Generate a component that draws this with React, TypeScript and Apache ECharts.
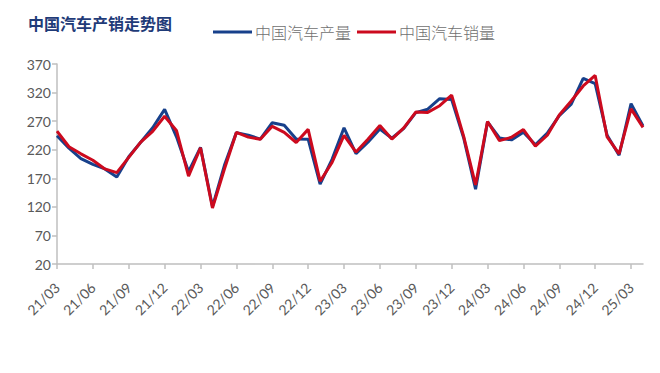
import React, { useEffect, useRef } from "react";
import * as echarts from "echarts";

const months: string[] = [
  "21/03","21/04","21/05","21/06","21/07","21/08","21/09","21/10","21/11","21/12",
  "22/01","22/02","22/03","22/04","22/05","22/06","22/07","22/08","22/09","22/10","22/11","22/12",
  "23/01","23/02","23/03","23/04","23/05","23/06","23/07","23/08","23/09","23/10","23/11","23/12",
  "24/01","24/02","24/03","24/04","24/05","24/06","24/07","24/08","24/09","24/10","24/11","24/12",
  "25/01","25/02","25/03","25/04",
];

const production: number[] = [
  244.3, 222.8, 204.4, 194.3, 186.3, 172.4, 207.7, 233.1, 258.5, 290.7,
  242.1, 181.4, 224.1, 120.5, 192.6, 249.9, 245.5, 238.6, 267.2, 262.7, 238.7, 238.4,
  159.7, 203.2, 258.4, 213.3, 233.3, 256.1, 240.1, 257.5, 285.0, 290.9, 309.3, 307.7,
  241.0, 150.9, 268.7, 240.6, 237.2, 250.7, 228.6, 249.2, 279.6, 299.6, 344.8, 335.5,
  245.3, 210.3, 300.6, 261.7,
];

const sales: number[] = [
  252.6, 225.2, 212.8, 201.5, 186.4, 179.9, 206.7, 233.3, 252.2, 278.6,
  253.1, 173.7, 223.4, 118.1, 186.2, 250.2, 242.0, 238.3, 261.0, 250.5, 232.6, 255.6,
  164.9, 197.6, 245.1, 215.9, 238.2, 262.2, 238.7, 258.2, 285.8, 285.3, 297.0, 315.6,
  243.9, 158.4, 269.4, 235.9, 241.7, 255.3, 226.2, 245.3, 280.9, 305.3, 331.6, 349.9,
  242.3, 212.9, 291.5, 259.0,
];

const titleText = "中国汽车产销走势图";
const seriesNames = ["中国汽车产量", "中国汽车销量"];

export default function App() {
  const ref = useRef<HTMLDivElement>(null);
  useEffect(() => {
    if (!ref.current) return;
    const chart = echarts.init(ref.current, undefined, { renderer: "svg" });
    chart.setOption({
      animation: false,
      backgroundColor: "#ffffff",
      title: {
        text: titleText,
        left: 23,
        top: 10,
        textStyle: {
          fontFamily: "Noto Sans CJK SC",
          fontSize: 16,
          fontWeight: "bold",
          color: "#1f3b78",
        },
      },
      legend: {
        left: 208,
        top: 19,
        itemWidth: 39,
        itemHeight: 3,
        itemGap: 6,
        icon: "rect",
        data: seriesNames,
        textStyle: {
          fontFamily: "Noto Sans CJK SC",
          fontSize: 16,
          fontWeight: 300,
          color: "#707070",
          padding: [0, 0, 0, -2],
        },
      },
      grid: { left: 57, right: 17, top: 64, bottom: 109 },
      xAxis: {
        type: "category",
        data: months,
        boundaryGap: false,
        axisLine: { lineStyle: { color: "#bfbfbf", width: 1.5 } },
        axisTick: { interval: 2, length: 5, lineStyle: { color: "#bfbfbf", width: 1.5 } },
        axisLabel: {
          interval: 2,
          rotate: 45,
          fontFamily: "Lato",
          fontSize: 14,
          color: "#595959",
          margin: 21,
        },
        splitLine: { show: false },
      },
      yAxis: {
        type: "value",
        min: 20,
        max: 370,
        interval: 50,
        axisLine: { show: true, lineStyle: { color: "#bfbfbf", width: 1.5 } },
        axisTick: { show: true, length: 5, lineStyle: { color: "#bfbfbf", width: 1.5 } },
        axisLabel: { fontFamily: "Lato", fontSize: 14, color: "#595959", margin: 6 },
        splitLine: { show: false },
      },
      series: [
        {
          name: seriesNames[0],
          type: "line",
          data: production,
          symbol: "none",
          lineStyle: { color: "#17408b", width: 3 },
          itemStyle: { color: "#17408b" },
        },
        {
          name: seriesNames[1],
          type: "line",
          data: sales,
          symbol: "none",
          lineStyle: { color: "#cc0a1e", width: 3 },
          itemStyle: { color: "#cc0a1e" },
        },
      ],
    });
    return () => chart.dispose();
  }, []);
  return <div ref={ref} style={{ width: 660, height: 373, margin: -8 }} />;
}
